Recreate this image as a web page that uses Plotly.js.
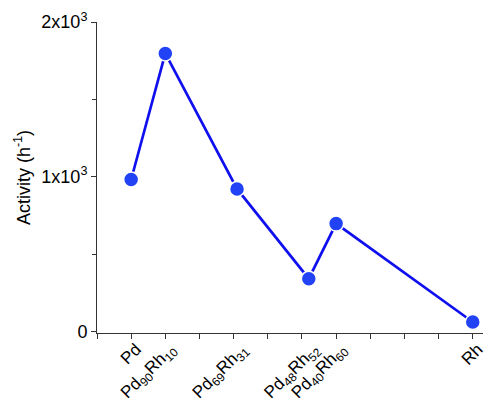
<!DOCTYPE html>
<html><head><meta charset="utf-8">
<script src="https://cdn.plot.ly/plotly-3.0.1.min.js"></script>
<style>body{margin:0;padding:0;background:#fff}#chart{width:489px;height:401px}</style>
</head><body><div id="chart"></div>
<script>
// Rh content (at.%) of each sample
const rhContent = [0, 10, 31, 52, 60, 100];
const sampleLabels = ['Pd', 'Pd<sub>90</sub>Rh<sub>10</sub>', 'Pd<sub>69</sub>Rh<sub>31</sub>', 'Pd<sub>48</sub>Rh<sub>52</sub>', 'Pd<sub>40</sub>Rh<sub>60</sub>', 'Rh'];
const activity = [982, 1797, 921, 341, 697, 61];
const yTickVals = [0, 1000, 2000];
const yTickText = ['0', '1x10<sup>3</sup>', '2x10<sup>3</sup>'];

const fam = 'Liberation Sans, Arial, sans-serif';
const trace = {
  x: rhContent, y: activity, type: 'scatter', mode: 'lines+markers',
  xaxis: 'x', yaxis: 'y',
  line: {color: '#1010ee', width: 2.7},
  marker: {color: '#2143f5', size: 15, line: {color: '#fff', width: 1.5}},
  hoverinfo: 'skip', cliponaxis: false
};
// invisible companion so the tick-mark axis is drawn
const tickTrace = {
  x: rhContent, y: activity, type: 'scatter', mode: 'markers',
  xaxis: 'x2', yaxis: 'y', marker: {opacity: 0}, hoverinfo: 'skip'
};
const layout = {
  width: 489, height: 401,
  margin: {l: 97, r: 6, t: 22, b: 68},
  paper_bgcolor: '#fff', plot_bgcolor: '#fff',
  showlegend: false,
  font: {family: fam, size: 18, color: '#000'},
  xaxis: {
    range: [-10, 103], tickmode: 'array', tickvals: rhContent, ticktext: sampleLabels,
    tickangle: -45, ticks: '', ticklabelstandoff: 2, ticklabelshift: 5,
    showline: false, showgrid: false, zeroline: false, automargin: false,
    tickfont: {family: fam, size: 17, color: '#000'}
  },
  xaxis2: {
    overlaying: 'x', range: [-10, 103], tickmode: 'linear', tick0: -10, dtick: 10,
    ticks: 'outside', ticklen: 5, tickwidth: 1, tickcolor: '#333',
    showticklabels: false, showline: true, linecolor: '#333', linewidth: 1,
    showgrid: false, zeroline: false, side: 'bottom', anchor: 'y', automargin: false
  },
  yaxis: {
    range: [-10, 2000], tickmode: 'array', tickvals: yTickVals, ticktext: yTickText,
    ticks: 'outside', ticklen: 5, tickwidth: 1, tickcolor: '#333',
    minor: {tickmode: 'array', tickvals: [500, 1500], ticks: 'outside', ticklen: 4, tickcolor: '#333'},
    showline: true, linecolor: '#333', linewidth: 1, showgrid: false, zeroline: false,
    automargin: false,
    tickfont: {family: fam, size: 18, color: '#000'},
    title: {text: 'Activity (h<sup>-1</sup>)', font: {family: fam, size: 18, color: '#000'}, standoff: 6}
  }
};
Plotly.newPlot('chart', [trace, tickTrace], layout, {displayModeBar: false, staticPlot: true});
</script></body></html>
